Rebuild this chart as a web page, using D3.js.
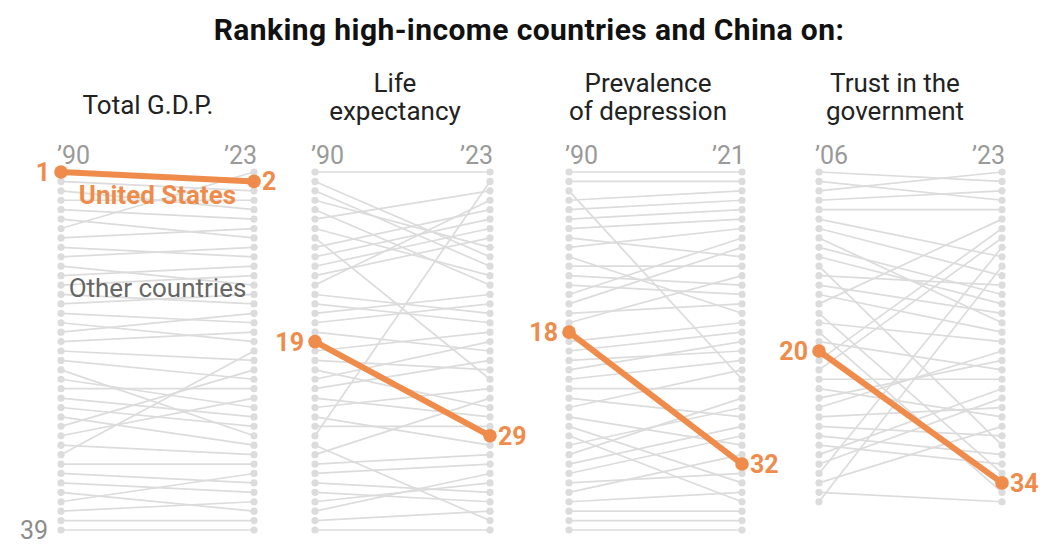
<!DOCTYPE html>
<html>
<head>
<meta charset="utf-8">
<script src="https://cdn.jsdelivr.net/npm/d3@7"></script>
<style>
  body { margin: 0; background: #fff; }
  svg { display: block; font-family: Roboto, "Liberation Sans", sans-serif; }
</style>
</head>
<body>
<div id="chart"></div>
<script>
// Later-year rank of the country ranked i+1 in the earlier year
var gdpRanks = [2, 3, 5, 4, 6, 8, 1, 7, 10, 9, 13, 11, 12, 15, 14, 17, 19, 16, 18, 21,
                23, 29, 26, 24, 27, 28, 30, 22, 25, 31, 20, 32, 34, 35, 37, 33, 36, 38, 39];
var lifeRanks = [1, 10, 11, 9, 13, 3, 12, 23, 5, 6, 7, 8, 4, 16, 17, 14, 15, 20, 29, 18,
                 22, 26, 19, 21, 27, 24, 30, 28, 2, 38, 25, 31, 32, 35, 36, 34, 33, 37, 39];
var depressionRanks = [1, 2, 23, 3, 4, 5, 6, 10, 7, 16, 11, 13, 14, 8, 9, 15, 12, 32, 17, 18,
                       20, 19, 21, 24, 27, 22, 30, 34, 36, 26, 25, 28, 29, 33, 31, 35, 37, 38, 39];
var trustRanks = [2, 4, 1, 3, 5, 10, 12, 17, 14, 15, 30, 13, 16, 18, 6, 33, 19, 35, 22, 34,
                  7, 8, 23, 27, 21, 20, 26, 29, 31, 32, 24, 25, 9, 28, 36, 11];

var panelRanks = [gdpRanks, lifeRanks, depressionRanks, trustRanks];
var panelTitles = [["Total G.D.P."], ["Life", "expectancy"], ["Prevalence", "of depression"], ["Trust in the", "government"]];
var startYears = ["\u201990", "\u201990", "\u201990", "\u201906"];
var endYears = ["\u201923", "\u201923", "\u201921", "\u201923"];
var usStartRank = [1, 19, 18, 20];
var maxRank = 39;

// layout
var width = 1050, height = 549;
var panelLeft = [61, 315, 569, 819],
    panelRight = [254, 490, 742, 1002],
    titleX = [148, 395, 648, 895];
var orange = "#f08c4b", grey = "#dcdcdc";

var yScale = d3.scaleLinear()
    .domain([1, maxRank])
    .range([172, 530]);

var svg = d3.select("#chart").append("svg")
    .attr("width", width)
    .attr("height", height);

svg.append("text")
    .attr("x", 529)
    .attr("y", 40)
    .attr("text-anchor", "middle")
    .style("font-size", "30px")
    .style("font-weight", 700)
    .style("letter-spacing", "0.4px")
    .style("fill", "#111")
    .text("Ranking high-income countries and China on:");

panelRanks.forEach(function(ranks, p) {
  var xScale = d3.scalePoint()
      .domain([startYears[p], endYears[p]])
      .range([panelLeft[p], panelRight[p]]);

  var rows = ranks.map(function(end, i) {
    return {start: i + 1, end: end, us: i + 1 === usStartRank[p]};
  });

  var g = svg.append("g").attr("class", "panel");

  // title
  var title = panelTitles[p];
  g.append("text")
      .attr("text-anchor", "middle")
      .style("font-size", "26px")
      .style("fill", "#222")
    .selectAll("tspan")
      .data(title)
    .enter().append("tspan")
      .attr("x", titleX[p])
      .attr("y", function(d, i) { return title.length === 1 ? 114 : 92 + i * 28; })
      .text(function(d) { return d; });

  // years
  g.append("text")
      .attr("x", xScale(startYears[p]) - 4)
      .attr("y", 164)
      .style("font-size", "25px")
      .style("fill", "#9a9a9a")
      .text(startYears[p]);
  g.append("text")
      .attr("x", xScale(endYears[p]) + 3)
      .attr("y", 164)
      .attr("text-anchor", "end")
      .style("font-size", "25px")
      .style("fill", "#9a9a9a")
      .text(endYears[p]);

  var others = rows.filter(function(d) { return !d.us; });

  g.selectAll(".other")
      .data(others)
    .enter().append("line")
      .attr("class", "other")
      .attr("x1", xScale(startYears[p]))
      .attr("x2", xScale(endYears[p]))
      .attr("y1", function(d) { return yScale(d.start); })
      .attr("y2", function(d) { return yScale(d.end); })
      .style("stroke", grey)
      .style("stroke-width", 1.7);

  g.selectAll(".dot-start")
      .data(others)
    .enter().append("circle")
      .attr("cx", xScale(startYears[p]))
      .attr("cy", function(d) { return yScale(d.start); })
      .attr("r", 3.6)
      .style("fill", grey);

  g.selectAll(".dot-end")
      .data(others)
    .enter().append("circle")
      .attr("cx", xScale(endYears[p]))
      .attr("cy", function(d) { return yScale(d.end); })
      .attr("r", 3.6)
      .style("fill", grey);

  if (p === 0) {
    g.append("text")
        .attr("x", xScale(startYears[p]) - 13)
        .attr("y", yScale(maxRank))
        .attr("dy", "0.35em")
        .attr("text-anchor", "end")
        .style("font-size", "25px")
        .style("fill", "#8c8c8c")
        .text(maxRank);

    g.append("text")
        .attr("x", (panelLeft[p] + panelRight[p]) / 2)
        .attr("y", 297)
        .attr("text-anchor", "middle")
        .style("font-size", "26px")
        .style("fill", "#666")
        .text("Other countries");

    g.append("text")
        .attr("x", (panelLeft[p] + panelRight[p]) / 2)
        .attr("y", 204)
        .attr("text-anchor", "middle")
        .style("font-size", "26px")
        .style("font-weight", 700)
        .style("fill", orange)
        .text("United States");
  }

  // United States
  var us = rows.filter(function(d) { return d.us; })[0];
  g.append("line")
      .attr("x1", xScale(startYears[p]))
      .attr("x2", xScale(endYears[p]))
      .attr("y1", yScale(us.start))
      .attr("y2", yScale(us.end))
      .style("stroke", orange)
      .style("stroke-width", 6)
      .style("stroke-linecap", "round");

  g.append("circle")
      .attr("cx", xScale(startYears[p]))
      .attr("cy", yScale(us.start))
      .attr("r", 6.8)
      .style("fill", orange);
  g.append("circle")
      .attr("cx", xScale(endYears[p]))
      .attr("cy", yScale(us.end))
      .attr("r", 6.8)
      .style("fill", orange);

  g.append("text")
      .attr("x", xScale(startYears[p]) - 11)
      .attr("y", yScale(us.start))
      .attr("dy", "0.36em")
      .attr("text-anchor", "end")
      .style("font-size", "25px")
      .style("font-weight", 700)
      .style("fill", orange)
      .text(us.start);
  g.append("text")
      .attr("x", xScale(endYears[p]) + 8)
      .attr("y", yScale(us.end))
      .attr("dy", "0.36em")
      .style("font-size", "25px")
      .style("font-weight", 700)
      .style("fill", orange)
      .text(us.end);
});
</script>
</body>
</html>
